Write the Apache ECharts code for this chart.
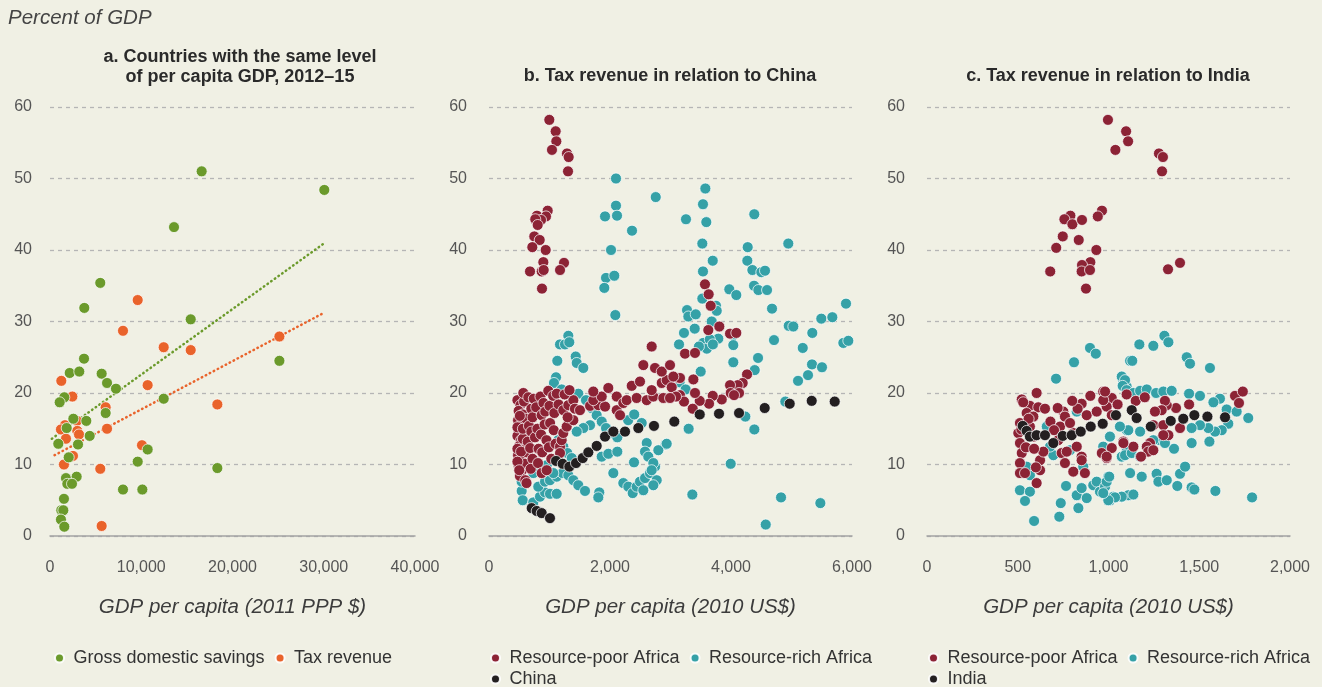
<!DOCTYPE html>
<html>
<head>
<meta charset="utf-8">
<title>Tax revenue and savings</title>
<script src="https://cdn.jsdelivr.net/npm/echarts@6/dist/echarts.min.js"></script>
<style>
  html, body { margin: 0; padding: 0; background: #f0f0e4; }
  #chart { width: 1322px; height: 687px; }
</style>
</head>
<body>
<div id="chart"></div>
<script>
// panel a: countries with the same level of per capita GDP (x = GDP per capita 2011 PPP $, y = % of GDP)
var savingsA = [
    [16620,51.0],[13590,43.2],[5510,35.4],[3760,31.9],[15420,30.3],[3730,24.8],[2160,22.8],[3210,23.0],
    [5660,22.7],[6250,21.4],[7230,20.6],[1570,19.4],[1060,18.7],[12460,19.2],[6100,17.2],[2560,16.4],
    [3980,16.1],[1830,15.1],[4350,14.0],[910,12.9],[3070,12.8],[10700,12.1],[2050,11.0],[9610,10.4],
    [18340,9.5],[1750,8.1],[2920,8.3],[1900,7.3],[2410,7.3],[8000,6.5],[10120,6.5],[1530,5.2],
    [1240,3.6],[1460,3.6],[1200,2.3],[1570,1.3],[30060,48.4],[25140,24.5]
];
var taxA = [
    [9610,33.0],[8000,28.7],[12460,26.4],[15420,26.0],[1240,21.7],[10700,21.1],[2450,19.5],[18340,18.4],
    [6100,18.0],[2960,16.1],[1640,15.5],[1200,14.9],[2990,14.7],[3180,14.2],[6250,15.0],[1750,13.6],
    [10080,12.7],[2520,11.2],[1530,10.0],[5510,9.4],[5660,1.4],[25140,27.9]
];
var savingsTrend = [[200,13.6],[30000,40.9]];
var taxTrend = [[500,11.3],[30000,31.2]];

// panel b: tax revenue in relation to China (x = GDP per capita 2010 US$)
var poorB = [
    [997,58.2],[1102,56.6],[1113,55.2],[1041,54.0],[1289,53.5],[1317,53.0],[1306,51.0],[970,45.5],
    [793,44.8],[942,44.7],[860,44.2],[765,44.3],[805,43.5],[749,41.9],[838,41.4],[716,40.4],
    [937,40.0],[898,38.3],[1240,38.2],[678,37.0],[871,37.0],[904,37.2],[1174,37.2],[876,34.6],
    [470,19.0],[520,18.3],[490,17.5],[560,17.0],[480,16.2],[540,15.6],[500,14.8],[470,14.0],
    [530,13.4],[500,12.6],[560,12.0],[480,11.3],[520,10.6],[490,9.8],[540,9.1],[510,8.4],
    [600,7.8],[620,7.4],[580,18.8],[610,16.4],[590,14.2],[620,11.7],[600,10.1],[567,20.0],
    [470,15.2],[510,16.8],[470,12.2],[530,11.8],[470,10.4],[500,9.2],[560,13.6],[560,15.0],
    [650,19.4],[640,13.2],[660,15.4],[680,12.3],[700,17.8],[720,16.6],[700,14.6],[720,10.8],
    [690,9.4],[740,19.2],[760,13.8],[780,18.0],[800,15.0],[820,12.2],[810,10.2],[850,19.5],
    [870,16.9],[860,14.2],[880,11.7],[871,8.8],[900,18.6],[930,17.4],[920,15.6],[950,13.4],
    [954,9.2],[980,20.3],[1000,18.2],[1010,15.8],[990,12.4],[1030,10.8],[1060,19.6],[1080,17.2],
    [1070,14.8],[1100,12.9],[1120,19.9],[1150,18.4],[1174,12.5],[1174,11.6],[1201,13.4],[1228,14.4],
    [1284,15.3],[1394,16.2],[1228,17.6],[1311,18.3],[1394,19.0],[1250,19.8],[1330,20.4],[1300,16.6],
    [1420,17.8],[1504,17.6],[1670,18.2],[1807,18.3],[1918,18.1],[2111,17.6],[2166,16.9],[1724,19.0],
    [1863,19.5],[2111,19.5],[2220,18.6],[2276,19.0],[2441,19.3],[2607,19.0],[2716,19.5],[2881,19.3],
    [3047,19.5],[3157,19.7],[1724,20.2],[1972,20.7],[2359,21.0],[2496,21.6],[2689,20.4],[2855,21.4],
    [2937,21.8],[3020,20.8],[3129,22.1],[2689,26.5],[2551,23.9],[2744,23.5],[2855,23.0],[2992,23.9],
    [3378,21.9],[4265,22.6],[4193,21.4],[4111,21.1],[3984,21.1],[3995,20.0],[4133,20.0],[4050,19.7],
    [3847,19.1],[3698,19.6],[3637,18.5],[3483,18.9],[3405,20.0],[3367,17.8],[3223,18.8],[3091,19.5],
    [2992,19.3],[3157,22.1],[3047,22.3],[3240,25.5],[3405,25.6],[3570,35.2],[3631,33.8],[3664,32.2],
    [3807,29.3],[3625,28.8],[3984,28.3],[4088,28.4]
];
var richB = [
    [2099,50.0],[2756,47.4],[2099,46.2],[1918,44.7],[2116,44.8],[2364,42.7],[2017,40.0],[1934,36.1],
    [2071,36.4],[1906,34.7],[3576,48.6],[3537,46.4],[3256,44.3],[3592,43.9],[4385,45.0],[3526,40.9],
    [4947,40.9],[4276,40.4],[3698,38.5],[4270,38.5],[3537,37.0],[4353,37.2],[4501,36.9],[4562,37.1],
    [4381,35.0],[4452,34.4],[4596,34.4],[3972,34.5],[4088,33.7],[3526,33.2],[4678,31.8],[5901,32.5],
    [5493,30.4],[5675,30.6],[4954,29.4],[5030,29.3],[5344,28.4],[4711,27.4],[5857,27.0],[5939,27.3],
    [5186,26.3],[3273,31.6],[3295,30.7],[3417,31.0],[3223,28.4],[3400,29.0],[3681,30.0],[3752,32.2],
    [3764,31.5],[4038,28.1],[4038,26.7],[3790,27.6],[3499,23.0],[4447,24.9],[4392,23.2],[4038,24.3],
    [5339,24.0],[5504,23.6],[5273,22.5],[5108,21.7],[4898,18.8],[4237,16.7],[4386,14.9],[2921,12.8],
    [3995,10.1],[3361,5.8],[4827,5.4],[5477,4.6],[4574,1.6],[2088,30.9],[1311,28.0],[1174,26.8],
    [1256,26.8],[1327,27.1],[1129,24.5],[1433,25.1],[1450,24.2],[1559,23.5],[1108,22.2],[3141,26.8],
    [1074,21.4],[1201,20.5],[1339,20.3],[1476,19.9],[1603,19.0],[1697,17.9],[1780,16.9],[1863,16.0],
    [1934,15.1],[2028,14.4],[2121,13.8],[1670,15.5],[1559,15.1],[1450,14.6],[540,6.3],[557,5.0],
    [732,4.7],[843,5.5],[926,6.1],[1008,5.9],[1119,5.9],[815,6.9],[926,7.6],[1008,7.8],
    [1119,8.3],[1218,8.8],[1311,8.5],[1394,7.8],[1476,7.1],[1587,6.3],[1823,6.1],[1807,5.4],
    [2055,8.8],[1863,11.1],[1972,11.5],[2121,11.8],[2220,7.4],[2303,6.9],[2375,6.0],[2441,6.9],
    [2496,7.6],[2579,8.1],[2661,8.8],[2744,9.7],[2772,7.8],[2716,7.1],[2551,6.4],[2397,10.3],
    [2607,13.0],[2579,11.8],[2633,11.1],[2716,10.2],[2689,9.2],[2799,12.0],[2937,12.9],[2524,15.8],
    [1146,13.4],[1228,12.5],[1295,11.6],[1367,10.9],[843,9.7],[732,8.8],[954,9.9],[1063,8.8],
    [512,9.2],[512,10.2],[540,7.6],[3540,27.0],[3600,26.2],[3650,27.5],[3700,26.8],[3470,26.5],
    [3150,21.5],[3250,20.5],[3300,15.0],[2300,16.2],[2400,17.0]
];
var china = [
    [706,3.9],[788,3.5],[871,3.2],[1008,2.5],[1108,10.5],[1218,10.1],[1328,9.7],[1438,10.2],
    [1549,10.9],[1642,11.7],[1780,12.6],[1918,13.9],[2055,14.6],[2248,14.6],[2468,15.1],[2727,15.4],
    [3063,16.0],[3483,17.0],[3802,17.1],[4133,17.2],[4557,17.9],[4970,18.5],[5334,18.9],[5714,18.8]
];

// panel c: tax revenue in relation to India
var poorC = [
    [997,58.2],[1097,56.6],[1108,55.2],[1038,54.0],[1278,53.5],[1300,53.0],[1295,51.0],[964,45.5],
    [941,44.7],[790,44.8],[757,44.3],[801,43.6],[854,44.2],[748,41.9],[836,41.4],[712,40.3],
    [933,40.0],[900,38.3],[854,37.9],[852,37.0],[898,37.2],[679,37.0],[876,34.6],[1328,37.3],
    [1394,38.2],
    [604,20.0],[522,19.1],[567,18.2],[613,18.0],[549,17.2],[512,15.8],[503,14.4],[512,13.0],
    [522,11.6],[512,10.2],[512,8.8],[540,8.8],[604,7.4],[623,9.2],[623,10.6],[641,11.8],
    [586,13.9],[567,15.3],[586,16.7],[751,17.4],[760,16.7],[733,15.3],[723,13.4],[742,11.6],
    [760,10.2],[806,9.0],[770,11.8],[852,11.1],[870,8.8],[852,10.6],[825,12.5],[806,14.4],
    [788,15.8],[852,18.5],[880,16.9],[935,17.4],[971,20.2],[1018,19.3],[990,18.1],[1018,16.9],
    [1082,13.2],[1018,12.3],[963,11.6],[990,10.9],[971,19.0],[981,20.2],[1697,19.6],[1740,20.2],
    [1719,18.6],[1444,18.4],[1372,17.9],[1321,18.3],[1311,18.9],[1293,17.6],[1256,17.4],[1247,15.5],
    [1302,15.5],[1330,14.1],[1302,14.1],[1394,15.1],[1229,13.0],[1211,12.5],[1219,11.8],[1247,12.0],
    [1179,11.1],[1137,12.5],[1082,13.0],[990,11.1],[530,18.7],[560,16.4],[545,12.4],
    [590,12.2],[600,9.6],[520,14.9],[650,17.8],[680,16.0],[700,14.8],[720,17.9],[830,17.8],
    [800,18.9],[900,19.6],[1050,18.4],[1100,19.8],[1150,18.9],[1200,19.4]
];
var richC = [
    [898,26.3],[930,25.5],[810,24.3],[711,22.0],[1119,24.5],[1082,21.6],[1100,20.9],[660,15.4],
    [825,17.4],[696,11.3],[512,6.4],[567,6.2],[540,4.9],[590,2.1],[729,2.7],[737,4.6],
    [766,7.0],[834,3.9],[825,5.7],[852,6.7],[880,5.3],[916,7.1],[935,7.6],[953,6.2],
    [981,6.9],[999,8.3],[1008,5.0],[1027,5.5],[1073,5.5],[1109,5.7],[971,12.5],[1008,13.9],
    [1073,11.1],[1100,11.8],[1100,14.8],[567,8.5],[549,9.7],[660,15.3],[678,12.5],[788,12.0],
    [861,9.7],[1308,28.0],[1330,27.1],[1247,26.6],[1170,26.8],[1131,24.5],[1431,25.0],[1449,24.1],
    [1559,23.5],[1073,22.3],[1091,21.8],[1078,21.0],[1100,20.4],[1137,20.0],[1174,20.3],[1211,20.5],
    [1262,20.0],[1302,20.2],[1348,20.3],[1444,19.9],[1504,19.6],[1614,19.2],[1578,18.7],[1651,17.7],
    [1706,17.4],[1770,16.5],[1660,15.7],[1624,14.8],[1587,14.6],[1550,15.1],[1504,15.5],[1458,15.1],
    [1458,13.0],[1556,13.2],[1361,12.2],[1284,13.4],[1311,13.0],[1247,13.4],[1174,14.6],[1109,14.8],
    [1063,15.3],[1008,13.9],[1091,11.3],[1128,11.6],[1174,11.1],[1119,8.8],[1183,8.3],[1265,8.7],
    [1275,7.6],[1321,7.8],[1394,8.7],[1422,9.7],[1379,7.0],[1458,6.8],[1473,6.5],[1589,6.3],
    [1791,5.4],[1137,5.8],[1073,5.5],[1036,5.4],[999,5.0],[971,6.0],[990,7.6],[1004,8.3]
];
var india = [
    [527,15.4],[549,14.7],[567,13.9],[604,14.1],[650,14.1],[696,13.0],[748,14.0],[797,14.1],
    [847,14.6],[902,15.3],[968,15.7],[1041,16.9],[1128,17.6],[1155,16.5],[1233,15.3],[1343,16.1],
    [1412,16.4],[1473,16.9],[1545,16.7],[1642,16.6]
];

var yTicks = { min: 0, max: 60, interval: 10 };

var colors = {
    savings: '#6b9a2b',
    tax: '#e9632b',
    poor: '#8c2335',
    rich: '#35a1a7',
    bench: '#231f20'
};

var font = '"Liberation Sans", Arial, sans-serif';
var textColor = '#3c3c3c';

function fmt(v) {
    return String(v).replace(/\B(?=(\d{3})+(?!\d))/g, ',');
}

function xAxisFor(idx, max, interval, name) {
    return {
        type: 'value', gridIndex: idx, min: 0, max: max, interval: interval,
        name: name, nameLocation: 'middle', nameGap: 61,
        nameTextStyle: { fontFamily: font, fontSize: 20.5, fontStyle: 'italic', color: textColor },
        axisLine: { show: true, lineStyle: { color: '#a3a3a3', width: 1.5 } },
        axisTick: { show: false },
        splitLine: { show: false },
        axisLabel: { margin: 24, fontFamily: font, fontSize: 16, color: '#555', formatter: fmt }
    };
}

function yAxisFor(idx, margin) {
    return {
        type: 'value', gridIndex: idx, min: yTicks.min, max: yTicks.max, interval: yTicks.interval,
        axisLine: { show: false },
        axisTick: { show: false },
        splitLine: { lineStyle: { color: '#b5b5b5', type: [4, 4], width: 1.3 } },
        axisLabel: { margin: margin, fontFamily: font, fontSize: 16, color: '#555' }
    };
}

function dots(name, data, color, idx, z) {
    return {
        name: name, type: 'scatter', xAxisIndex: idx, yAxisIndex: idx,
        data: data, symbolSize: 11, z: z,
        itemStyle: { color: color, borderColor: 'rgba(255,255,255,0.9)', borderWidth: 0.8, opacity: 1 },
        emphasis: { disabled: true }
    };
}

function trend(data, color) {
    return {
        type: 'line', xAxisIndex: 0, yAxisIndex: 0, data: data, symbol: 'none', z: 1,
        lineStyle: { color: color, width: 2.5, type: [0.5, 4], cap: 'round' },
        silent: true
    };
}

// one legend per row, so the second row sits where the reference puts it
function legendFor(left, top, names) {
    return {
        left: left, top: top, padding: 0, orient: 'horizontal',
        icon: 'circle', itemWidth: 18, itemHeight: 9, itemGap: 10,
        textStyle: { fontFamily: font, fontSize: 18, color: '#333' },
        data: names
    };
}

var chart = echarts.init(document.getElementById('chart'));

var titleStyle = { fontFamily: font, fontSize: 18, fontWeight: 'bold', color: '#2a2a2a', lineHeight: 20 };

var option = {
    backgroundColor: '#f0f0e4',
    animation: false,
    title: [
        { text: 'Percent of GDP', left: 8, top: 8, padding: 0,
          textStyle: { fontFamily: font, fontSize: 20.5, fontStyle: 'italic', fontWeight: 'normal', color: '#444', lineHeight: 20 } },
        { text: 'a. Countries with the same level\nof per capita GDP, 2012\u201315', left: 240, top: 47, padding: 0,
          textAlign: 'center', textStyle: titleStyle },
        { text: 'b. Tax revenue in relation to China', left: 670, top: 66, padding: 0, textAlign: 'center', textStyle: titleStyle },
        { text: 'c. Tax revenue in relation to India', left: 1108, top: 66, padding: 0, textAlign: 'center', textStyle: titleStyle }
    ],
    legend: [
        legendFor(54, 649, ['Gross domestic savings', 'Tax revenue']),
        legendFor(490, 649, ['Resource-poor Africa', 'Resource-rich Africa']),
        legendFor(490, 670, ['China']),
        legendFor(928, 649, ['Resource-poor Africa', 'Resource-rich Africa']),
        legendFor(928, 670, ['India'])
    ],
    grid: [
        { left: 50, width: 365, top: 107, height: 429 },
        { left: 489, width: 363, top: 107, height: 429 },
        { left: 927, width: 363, top: 107, height: 429 }
    ],
    xAxis: [
        xAxisFor(0, 40000, 10000, 'GDP per capita (2011 PPP $)'),
        xAxisFor(1, 6000, 2000, 'GDP per capita (2010 US$)'),
        xAxisFor(2, 2000, 500, 'GDP per capita (2010 US$)')
    ],
    yAxis: [yAxisFor(0, 18), yAxisFor(1, 22), yAxisFor(2, 22)],
    series: [
        trend(savingsTrend, colors.savings),
        trend(taxTrend, colors.tax),
        dots('Tax revenue', taxA, colors.tax, 0, 2),
        dots('Gross domestic savings', savingsA, colors.savings, 0, 3),
        dots('Resource-rich Africa', richB, colors.rich, 1, 2),
        dots('Resource-poor Africa', poorB, colors.poor, 1, 3),
        dots('China', china, colors.bench, 1, 4),
        dots('Resource-rich Africa', richC, colors.rich, 2, 2),
        dots('Resource-poor Africa', poorC, colors.poor, 2, 3),
        dots('India', india, colors.bench, 2, 4)
    ]
};

chart.setOption(option);
</script>
</body>
</html>
